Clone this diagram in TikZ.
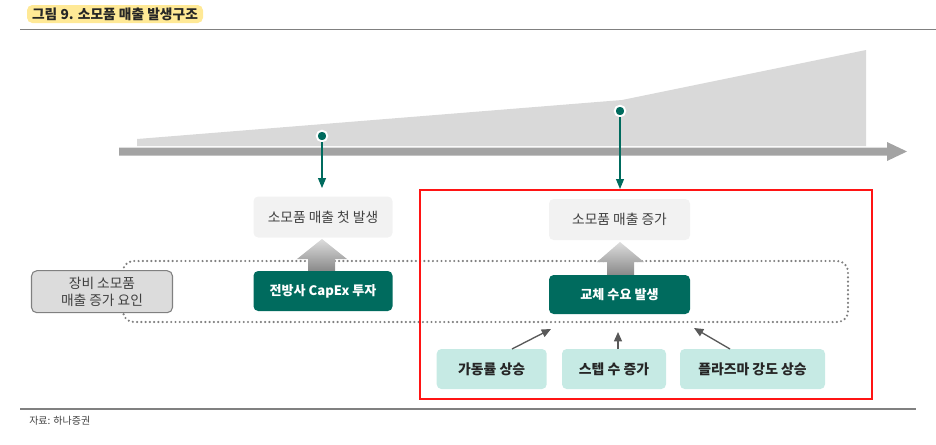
\documentclass[tikz,border=0pt]{standalone}
\usepackage{fontspec}
\setmainfont{Noto Sans CJK KR}
\usetikzlibrary{arrows.meta}
\definecolor{tealdk}{RGB}{0,107,94}
\definecolor{tealbg}{RGB}{198,234,228}
\definecolor{lightbox}{RGB}{242,242,242}
\definecolor{labelbg}{RGB}{220,220,220}
\definecolor{areagray}{RGB}{217,217,217}
\definecolor{bargray}{RGB}{163,163,163}
\definecolor{rulegray}{RGB}{128,128,128}
\definecolor{txtgray}{RGB}{64,64,64}
\definecolor{titlebg}{RGB}{255,233,150}
\definecolor{redline}{RGB}{255,20,20}
\tikzset{
  lightbox/.style={fill=lightbox, rounded corners=3.5pt, inner sep=0pt, text=txtgray, font=\fontsize{10.3}{12}\selectfont},
  greenbox/.style={fill=tealdk, rounded corners=3.5pt, inner sep=0pt, text=white, font=\fontsize{9.8}{11}\selectfont\bfseries},
  cause/.style={fill=tealbg, rounded corners=3.5pt, inner sep=0pt, text=black!85, minimum width=82.5pt, minimum height=30pt, font=\fontsize{10.4}{12}\selectfont\bfseries},
  marker/.style={circle, fill=tealdk, draw=white, line width=1.4pt, minimum size=8pt, inner sep=0pt},
  droparrow/.style={draw=tealdk, line width=0.8pt, -{Triangle[width=6pt,length=7.5pt]}},
  causearrow/.style={draw=black!65, line width=1pt, -{Triangle[width=6pt,length=7pt]}},
  fatarrow/.style={top color=areagray!90, bottom color=rulegray!95},
  dottedloop/.style={draw=rulegray, line width=1.8pt, line cap=round, dash pattern=on 0pt off 3.2pt, rounded corners=8pt}
}
\begin{document}
\begin{tikzpicture}[x=0.75pt,y=-0.75pt]
\useasboundingbox (0,0) rectangle (936,444);
% title and rules
\node[fill=titlebg, rounded corners=4pt, minimum width=132pt, minimum height=13.5pt, inner sep=0pt, font=\fontsize{10.3}{12}\selectfont\bfseries, text=black!85] (title) at (115,14) {그림 9. 소모품 매출 발생구조};
\draw[rulegray, line width=1.3pt] (20,29.5) -- (936,29.5);
\draw[rulegray, line width=1.3pt] (20,409) -- (916,409);
\node[anchor=west, inner sep=0pt, font=\fontsize{7.5}{9}\selectfont, text=txtgray] (src) at (29,421) {자료: 하나증권};
% growth area and timeline arrow
\fill[areagray] (137,146) -- (137,139) -- (622,100) -- (866,50) -- (866,146) -- cycle;
\fill[bargray] (119,147.5) -- (887,147.5) -- (887,142) -- (907,151.5) -- (887,161) -- (887,155.5) -- (119,155.5) -- cycle;
% dotted loop
\draw[dottedloop] (123,261) rectangle (848,322);
% red focus box
\node[draw=redline, line width=1.5pt, minimum width=339pt, minimum height=156.75pt, inner sep=0pt] (focus) at (646,294.5) {};
% fat arrows
\shade[fatarrow] (308,272) -- (308,259) -- (297,259) -- (322,239) -- (347,259) -- (335,259) -- (335,272) -- cycle;
\shade[fatarrow] (607,276) -- (607,262) -- (597,262) -- (620,242) -- (644,262) -- (634,262) -- (634,276) -- cycle;
% boxes
\node[lightbox, minimum width=104.25pt, minimum height=30.75pt] (first) at (323,217) {소모품 매출 첫 발생};
\node[lightbox, minimum width=105.75pt, minimum height=30.75pt] (grow) at (619.5,219.5) {소모품 매출 증가};
\node[greenbox, minimum width=104.25pt, minimum height=30pt] (capex) at (323,291) {전방사 CapEx 투자};
\node[greenbox, minimum width=105.75pt, minimum height=29.25pt] (repl) at (619.5,294.5) {교체 수요 발생};
\node[fill=labelbg, draw=rulegray, line width=0.8pt, rounded corners=4pt, minimum width=105.75pt, minimum height=31.5pt, inner sep=0pt, align=center, text=txtgray, font=\fontsize{10.3}{12.5}\selectfont] (label) at (102,291.7) {장비 소모품\\매출 증가 요인};
\node[cause] (c1) at (491.7,369) {가동률 상승};
\node[cause, minimum width=78pt] (c2) at (614,369) {스텝 수 증가};
\node[cause, minimum width=108.75pt] (c3) at (752.5,369) {플라즈마 강도 상승};
% markers and drops
\node[marker] (m1) at (322,136) {};
\node[marker] (m2) at (620,111) {};
\coordinate (t1) at (322,188);
\draw[droparrow] (m1) -- (t1);
\draw[droparrow] (m2) -- (m2 |- focus.north);
% cause arrows
\coordinate (s1) at (512,349);
\coordinate (e1) at (551,329);
\coordinate (s2) at (618,349);
\coordinate (e2) at (618,332);
\coordinate (s3) at (730,349);
\coordinate (e3) at (694,328);
\draw[causearrow] (s1) -- (e1);
\draw[causearrow] (s2) -- (e2);
\draw[causearrow] (s3) -- (e3);
\end{tikzpicture}
\end{document}
